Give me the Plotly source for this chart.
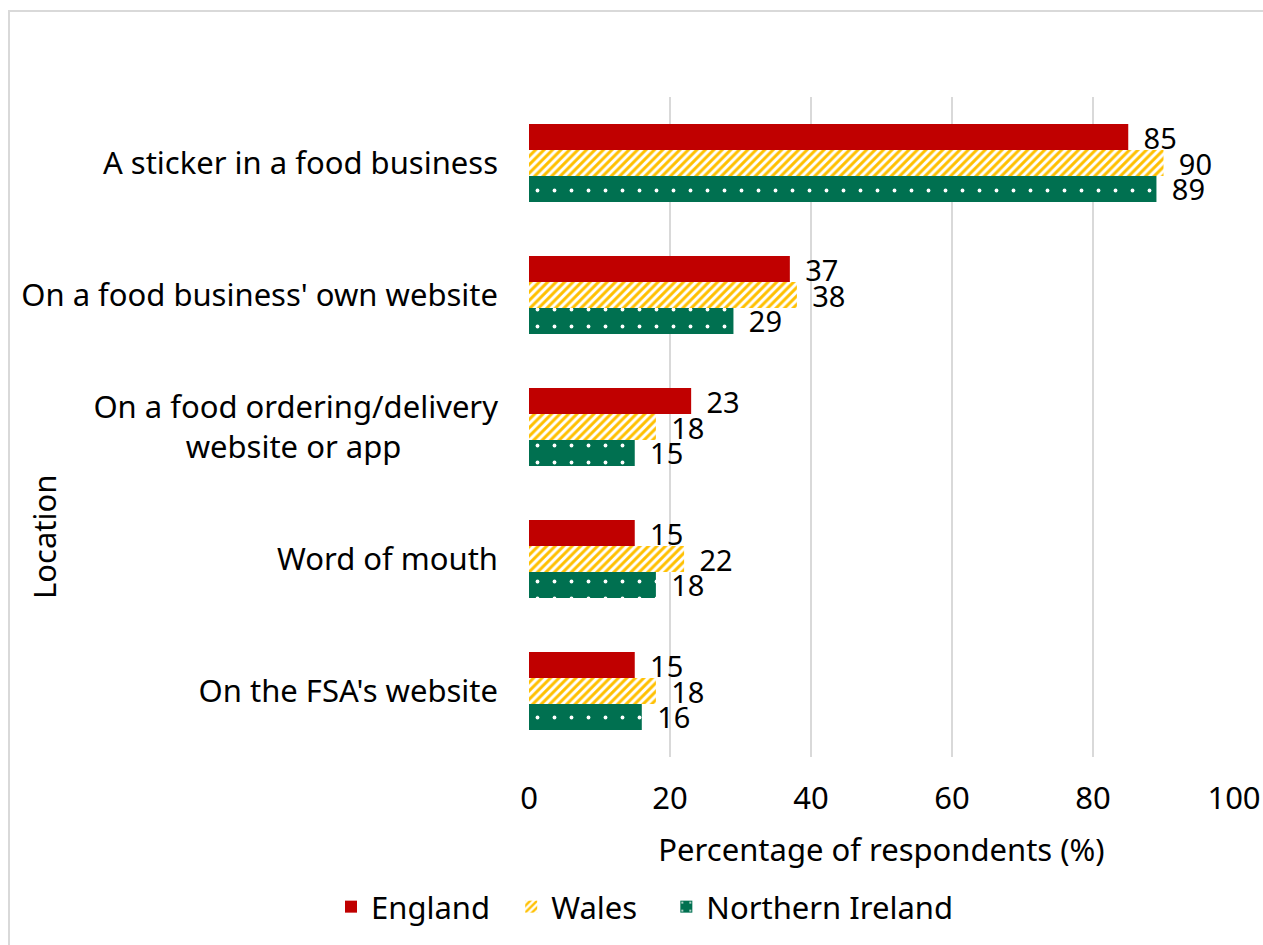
import plotly.graph_objects as go

categories = [
    "A sticker in a food business",
    "On a food business' own website",
    "On a food ordering/delivery<br>website or app" + "\u00a0" * 12,
    "Word of mouth",
    "On the FSA's website",
]
series_names = ["England", "Wales", "Northern Ireland"]
england = [85, 37, 23, 15, 15]
wales = [90, 38, 18, 22, 18]
northern_ireland = [89, 29, 15, 18, 16]
x_ticks = [0, 20, 40, 60, 80, 100]

FONT = "Noto Sans"
FS = 31
FS_VAL = 29

W, H = 1263, 945
L, R, T, B = 529, 29, 97, 188
pw, ph = W - L - R, H - T - B

def px_x(p):
    return (p - L) / pw

def px_y(p):
    return 1 - (p - T) / ph

def bar(vals, name, marker, pad):
    return go.Bar(
        y=categories, x=vals, name=name + "\u00a0" * pad, orientation="h", marker=marker,
        text=[f"\u00a0\u2009{v}" for v in vals], textposition="outside", constraintext="none",
        textfont=dict(size=FS_VAL, color="black", family=FONT), cliponaxis=False,
    )

fig = go.Figure()
fig.add_trace(bar(england, series_names[0], dict(color="#C00000", line=dict(width=0)), 2))
fig.add_trace(bar(wales, series_names[1], dict(
    color="white", line=dict(width=0),
    pattern=dict(shape="/", fgcolor="#FFC000", bgcolor="white", fgopacity=1, size=6, solidity=0.5)), 3))
fig.add_trace(bar(northern_ireland, series_names[2], dict(
    color="#007050", line=dict(width=0),
    pattern=dict(shape=".", fgcolor="white", bgcolor="#007050", fgopacity=1, size=17, solidity=0.04)), 0))

fig.update_layout(
    width=W, height=H,
    margin=dict(l=L, r=R, t=T, b=B, autoexpand=False),
    paper_bgcolor="white", plot_bgcolor="white",
    font=dict(family=FONT, size=FS, color="black"),
    barmode="group", bargap=0.41, bargroupgap=0,
    showlegend=True,
    legend=dict(orientation="h", x=px_x(645), y=px_y(907), xanchor="center", yanchor="middle",
                font=dict(size=FS, family=FONT), traceorder="normal"),
    xaxis=dict(range=[0, 100], tickvals=x_ticks, showgrid=True, gridcolor="#d9d9d9", gridwidth=2,
               zeroline=False, showline=False, ticks="", ticklabelstandoff=20,
               tickfont=dict(size=FS, family=FONT),
               title=dict(text="Percentage of respondents (%)", font=dict(size=FS, family=FONT), standoff=22)),
    yaxis=dict(autorange="reversed", showgrid=False, zeroline=False, showline=False, ticks="",
               ticklabelstandoff=30, tickfont=dict(size=FS, family=FONT)),
    shapes=[dict(type="rect", xref="paper", yref="paper",
                 x0=px_x(9), x1=px_x(1275), y0=px_y(960), y1=px_y(11),
                 line=dict(color="#d9d9d9", width=2), layer="below")],
    annotations=[dict(text="Location", xref="paper", yref="paper", x=px_x(44), y=px_y(537),
                      textangle=-90, showarrow=False, font=dict(size=FS, family=FONT),
                      xanchor="center", yanchor="middle")],
)

fig.write_html("out.html", config={"displayModeBar": False},
               post_script="document.body.style.margin='0';document.body.style.overflow='hidden';")
